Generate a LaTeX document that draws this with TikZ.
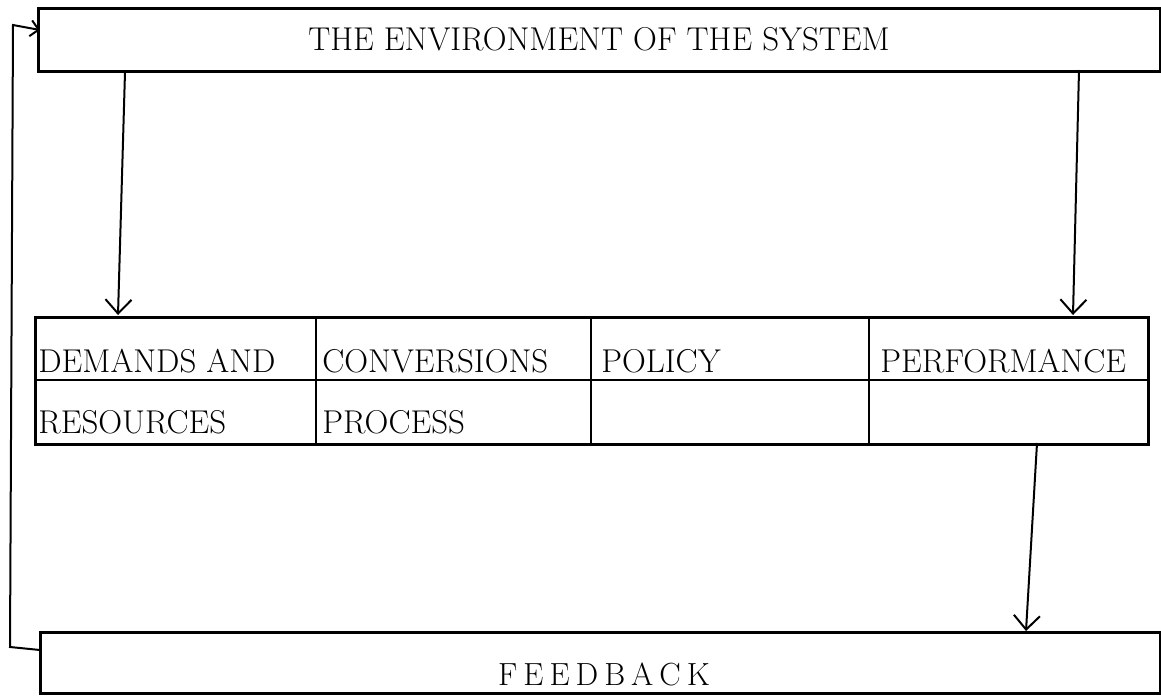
\documentclass[tikz,border=0pt]{standalone}
\usepackage{fontspec}
\usetikzlibrary{arrows.meta}
\tikzset{
  box/.style={draw, rectangle, line width=1.5pt, inner sep=0pt, font=\fontsize{16.5}{20}\selectfont},
  rule/.style={line width=1pt},
  lbl/.style={anchor=base west, inner sep=0pt, font=\fontsize{16.5}{20}\selectfont},
  flow/.style={line width=1pt, ->},
  back/.style={line width=1pt, -{Straight Barb[length=4pt,width=8pt]}},
}
\newcommand{\gap}{\kern3pt}
\begin{document}
\begin{tikzpicture}[x=0.5pt, y=-0.5pt, >={Straight Barb[length=7pt,width=13pt]}]
    \useasboundingbox (0,0) rectangle (1161,698);

    % Umgebung (oben)
    \node[box, minimum width=561pt, minimum height=31.5pt] (env) at (599,39.5) {THE ENVIRONMENT OF THE SYSTEM};

    % Tabelle des Systems
    \node[box, anchor=north west, minimum width=556.5pt, minimum height=63.5pt] (tab) at (34,316) {};
    \draw[rule] (34,380) -- (1147,380);
    \foreach \cx in {316,591,869}
        \draw[rule] (\cx,316) -- (\cx,443);
    \node[lbl] (dem)  at (38,372)  {DEMANDS AND};
    \node[lbl] (res)  at (38,433)  {RESOURCES};
    \node[lbl] (conv) at (322,372) {CONVERSIONS};
    \node[lbl] (proc) at (322,433) {PROCESS};
    \node[lbl] (pol)  at (601,372) {POLICY};
    \node[lbl] (perf) at (880,372) {PERFORMANCE};

    % Rueckkopplung (unten)
    \node[box, minimum width=560pt, minimum height=30.5pt] (fb) at (600,662.5) {};
    \node[inner sep=0pt, font=\fontsize{16}{19}\selectfont] (fbtxt) at (604,674) {F\gap E\gap E\gap D\gap B\gap A\gap C\gap K};

    % Pfeile
    \coordinate (in1)  at (125,72);
    \coordinate (hit1) at (118,315);
    \coordinate (in2)  at (1079,70);
    \coordinate (hit2) at (1073,315);
    \coordinate (out)  at (1037,443);
    \coordinate (hit3) at (1026,631);
    \draw[flow] (in1) -- (hit1);
    \draw[flow] (in2) -- (hit2);
    \draw[flow] (out) -- (hit3);

    % Schleife links
    \coordinate (fbout) at (40,650);
    \coordinate (c1)    at (10,647);
    \coordinate (c2)    at (13,25);
    \coordinate (envin) at (40,30);
    \draw[back] (fbout) -- (c1) -- (c2) -- (envin);

\end{tikzpicture}
\end{document}
